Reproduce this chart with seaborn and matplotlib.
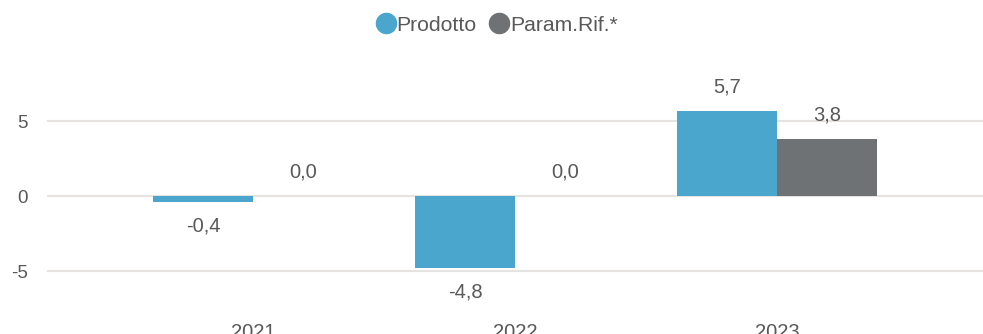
import matplotlib
matplotlib.use("Agg")
import matplotlib.pyplot as plt
from matplotlib.lines import Line2D
import seaborn as sns
import pandas as pd

years = ["2021", "2022", "2023"]
prodotto = [-0.4, -4.8, 5.7]
param_rif = [0.0, 0.0, 3.8]
series_names = ["Prodotto", "Param.Rif.*"]
colors = ["#4BA6CD", "#6F7275"]

df = pd.DataFrame({
    "Anno": years * 2,
    "Valore": prodotto + param_rif,
    "Serie": [series_names[0]] * 3 + [series_names[1]] * 3,
})

sns.set_theme(style="white")
plt.rcParams["font.family"] = ["Liberation Sans", "DejaVu Sans"]
text_color = "#595959"

fig = plt.figure(figsize=(9.83, 3.34), dpi=100)
ax = fig.add_axes([47 / 983, (334 - 312) / 334, 1 - 47 / 983, (312 - 60) / 334])

sns.barplot(data=df, x="Anno", y="Valore", hue="Serie", palette=colors,
            width=0.763, gap=0, saturation=1, legend=False, linewidth=0,
            ax=ax)

ax.set_xlim(-0.786, 2.786)
ax.set_ylim(-7.73, 9.07)
ax.set_yticks([-5, 0, 5])
ax.set_yticklabels(["-5", "0", "5"])
ax.grid(axis="y", color="#E6E2DF", linewidth=1.5)
ax.set_axisbelow(True)
for s in ax.spines.values():
    s.set_visible(False)
ax.set_xlabel("")
ax.set_ylabel("")
ax.tick_params(axis="both", length=0, colors=text_color)
ax.tick_params(axis="x", pad=8, labelsize=14.5)
ax.tick_params(axis="y", pad=14, labelsize=13.5)

# value labels above positive bars, below negative ones
for cont in ax.containers:
    for bar in cont:
        val = bar.get_height()
        off = 17 if val >= 0 else -17
        ax.annotate(f"{val:.1f}".replace(".", ","),
                    (bar.get_x() + bar.get_width() / 2, val),
                    xytext=(0, off), textcoords="offset points",
                    ha="center", va="center", fontsize=14.5, color=text_color)

handles = [Line2D([], [], marker="o", linestyle="", markersize=14.5,
                  markerfacecolor=c, markeredgecolor=c) for c in colors]
fig.legend(handles, series_names, loc="center", bbox_to_anchor=(0.505, 0.925),
           ncol=2, frameon=False, fontsize=15.2, handletextpad=0.0,
           columnspacing=0.6, labelcolor=text_color, handlelength=1.0)

fig.savefig("out.png", dpi=100)
